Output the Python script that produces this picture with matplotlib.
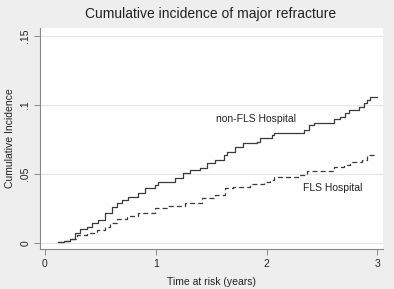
import matplotlib
matplotlib.use("Agg")
import matplotlib.pyplot as plt

# Data (step functions)
t_nonfls = [0.12, 0.17, 0.226, 0.271, 0.316, 0.377, 0.422, 0.481, 0.542, 0.603, 0.648, 0.693, 0.752, 0.843,
            0.903, 0.994, 1.024, 1.174, 1.249, 1.31, 1.40, 1.461, 1.536, 1.611,
            1.641, 1.716, 1.791, 1.912, 1.942, 2.048, 2.062, 2.333, 2.379, 2.424,
            2.604, 2.665, 2.71, 2.74, 2.83, 2.875, 2.906, 2.936, 2.996]
y_nonfls = [0.0005, 0.0017, 0.0027, 0.0070, 0.0099, 0.0118, 0.0143, 0.0167, 0.0215, 0.0263, 0.0288, 0.0312, 0.0336, 0.036,
            0.0396, 0.042, 0.0444, 0.0469, 0.0505, 0.0529, 0.0541, 0.0578, 0.0601, 0.0638,
            0.0662, 0.0698, 0.0722, 0.0734, 0.0759, 0.0783, 0.0795, 0.0819, 0.0855, 0.0872,
            0.0896, 0.0915, 0.094, 0.0964, 0.0988, 0.1012, 0.1036, 0.106, 0.106]

t_fls = [0.12, 0.17, 0.226, 0.286, 0.377, 0.467, 0.542, 0.587, 0.648, 0.738, 0.843,
         0.994, 1.114, 1.265, 1.416, 1.536, 1.626, 1.701, 1.852, 1.972, 2.033, 2.062,
         2.30, 2.364, 2.604, 2.695, 2.755, 2.861, 2.906, 2.996]
y_fls = [0.0005, 0.0015, 0.0027, 0.0058, 0.0075, 0.0094, 0.0118, 0.0143, 0.0172, 0.0198, 0.0215,
         0.0251, 0.0268, 0.0288, 0.0324, 0.0348, 0.0396, 0.0408, 0.0428, 0.0444, 0.0457, 0.048,
         0.0493, 0.0524, 0.0549, 0.0565, 0.0589, 0.0601, 0.0638, 0.0638]

x_ticks = [0, 1, 2, 3]
x_ticklabels = ["0", "1", "2", "3"]
y_ticks = [0, 0.05, 0.10, 0.15]
y_ticklabels = ["0", ".05", ".1", ".15"]

plt.rcParams['font.family'] = ['Liberation Sans', 'DejaVu Sans']

W, H = 394, 289
fig = plt.figure(figsize=(W / 100, H / 100), dpi=100)
fig.patch.set_facecolor('#eeeeee')
ax = fig.add_axes([40 / W, 1 - 249 / H, (383 - 40) / W, (249 - 28) / H])
ax.set_facecolor('white')

ax.set_xlim(-0.045, 3.05)
ax.set_ylim(-0.0043, 0.1558)

for yt in y_ticks:
    ax.axhline(yt, color='#e6e6e6', lw=0.8, zorder=0)

ax.step(t_nonfls, y_nonfls, where='post', color='#3a3a3a', lw=0.9)
ax.step(t_fls, y_fls, where='post', color='#3a3a3a', lw=0.9, linestyle=(0, (4, 2.5)))

ax.text(1.9, 0.0899, "non-FLS Hospital", ha='center', va='center', fontsize=7.5, color='#222222')
ax.text(2.6, 0.0396, "FLS Hospital", ha='center', va='center', fontsize=7.5, color='#222222')

ax.set_xticks(x_ticks)
ax.set_xticklabels(x_ticklabels)
ax.set_yticks(y_ticks)
ax.set_yticklabels(y_ticklabels, rotation=90, va='center')

for s in ['top', 'right']:
    ax.spines[s].set_visible(False)
for s in ['left', 'bottom']:
    ax.spines[s].set_color('#888888')
    ax.spines[s].set_linewidth(0.8)
ax.tick_params(axis='both', direction='out', length=4, width=0.7, color='#888888',
               labelsize=7.5, labelcolor='#222222', pad=3)

ax.set_xlabel("Time at risk (years)", fontsize=7.5, color='#222222', labelpad=6)
ax.set_ylabel("Cumulative Incidence", fontsize=7.5, color='#222222', labelpad=4)
fig.text(211 / W, 1 - 14 / H, "Cumulative incidence of major refracture",
         ha='center', va='center', fontsize=10, color='#222222')

fig.savefig("out.png", dpi=100, facecolor=fig.get_facecolor())
